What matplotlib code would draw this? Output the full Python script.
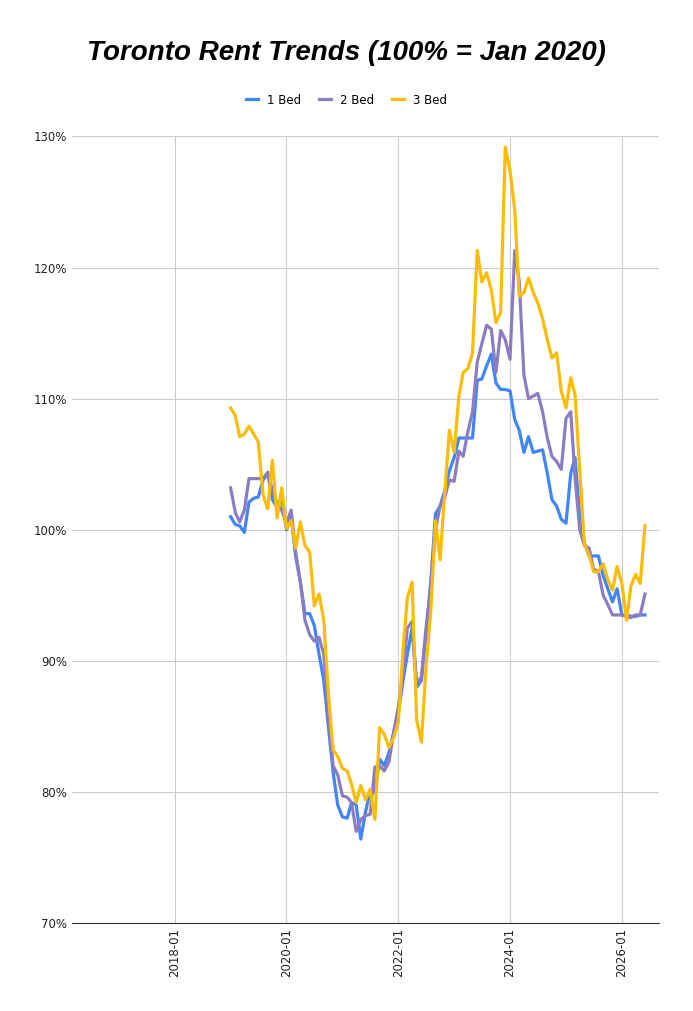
import matplotlib
matplotlib.use('Agg')
import matplotlib.pyplot as plt
import matplotlib.dates as mdates
import numpy as np
import datetime

months = [datetime.date(2019 + (i // 12), i % 12 + 1, 1) for i in range(90)]

bed1 = [101.0, 100.4, 100.3, 99.8, 102.1, 102.4, 102.5, 103.8, 104.3, 102.3, 101.7, 102.5,
        100.0, 101.0, 98.0, 96.0, 93.6, 93.6, 92.7, 90.5, 88.5, 85.0, 81.5, 79.0,
        78.1, 78.0, 79.2, 79.0, 76.4, 78.5, 80.0, 80.0, 82.5, 82.0, 83.0, 84.5,
        86.0, 88.5, 90.5, 92.5, 88.0, 88.5, 92.0, 96.0, 101.2, 101.8, 103.0, 104.5,
        105.5, 107.0, 107.0, 107.0, 107.0, 111.4, 111.5, 112.5, 113.4, 111.2, 110.7, 110.7,
        110.6, 108.4, 107.6, 105.9, 107.1, 105.9, 106.0, 106.1, 104.3, 102.3, 101.8, 100.8,
        100.5, 104.3, 105.5, 101.0, 99.0, 98.0, 98.0, 98.0, 96.5, 95.5, 94.5, 95.5,
        93.5, 93.5, 93.4, 93.4, 93.5, 93.5]

bed2 = [103.2, 101.3, 100.6, 101.5, 103.9, 103.9, 103.9, 103.9, 104.4, 103.0, 102.0, 101.5,
        100.5, 101.5, 98.3, 96.0, 93.1, 92.0, 91.5, 91.8, 90.5, 86.0, 82.0, 81.3,
        79.7, 79.6, 79.2, 77.0, 77.9, 78.2, 78.3, 81.9, 82.0, 81.6, 82.3, 84.5,
        86.5, 89.0, 92.5, 93.0, 88.2, 88.8, 92.5, 95.5, 100.0, 101.8, 102.5, 103.8,
        103.7, 106.0, 105.6, 107.5, 109.0, 112.8, 114.2, 115.6, 115.3, 112.0, 115.2, 114.5,
        113.0, 121.3, 119.0, 111.8, 110.0, 110.2, 110.4, 109.0, 107.0, 105.6, 105.2, 104.6,
        108.5, 109.0, 104.0, 100.0, 98.8, 98.6, 97.0, 96.8, 95.0, 94.3, 93.5, 93.5,
        93.5, 93.4, 93.3, 93.5, 93.5, 95.1]

bed3 = [109.3, 108.7, 107.1, 107.3, 107.9, 107.3, 106.7, 102.7, 101.6, 105.3, 100.9, 103.2,
        100.1, 100.7, 98.6, 100.6, 98.8, 98.3, 94.2, 95.1, 93.1, 87.5, 83.2, 82.7,
        81.8, 81.6, 80.6, 79.2, 80.5, 79.4, 80.2, 77.9, 84.9, 84.4, 83.4, 84.1,
        85.3, 90.8, 94.8, 96.0, 85.5, 83.8, 89.5, 93.7, 100.7, 97.7, 102.9, 107.6,
        105.9, 110.2, 112.0, 112.3, 113.5, 121.3, 118.9, 119.6, 118.3, 115.8, 116.6, 129.2,
        127.4, 124.4, 117.8, 118.1, 119.2, 118.1, 117.3, 116.1, 114.5, 113.1, 113.5, 110.6,
        109.3, 111.6, 110.3, 104.5, 98.9, 98.1, 96.8, 96.8, 97.4, 96.2, 95.4, 97.2,
        95.9, 93.1, 95.7, 96.6, 95.9, 100.3]

fig = plt.figure(figsize=(6.93, 10.11), dpi=100)
ax = fig.add_axes([0.104, 0.087, 0.847, 0.778])

ax.plot(months, np.array(bed1) / 100, color='#4285f4', lw=2.3, label='1 Bed')
ax.plot(months, np.array(bed2) / 100, color='#8e7cc3', lw=2.3, label='2 Bed')
ax.plot(months, np.array(bed3) / 100, color='#fbbc04', lw=2.3, label='3 Bed')

ax.set_xlim(datetime.date(2016, 3, 1), datetime.date(2026, 9, 1))
ax.set_ylim(0.7, 1.3)
ax.set_yticks(np.arange(0.7, 1.31, 0.1))
ax.set_yticklabels([f'{v}%' for v in range(70, 131, 10)], fontsize=8.5)
ax.set_xticks([datetime.date(y, 1, 1) for y in (2018, 2020, 2022, 2024, 2026)])
ax.xaxis.set_major_formatter(mdates.DateFormatter('%Y-%m'))
plt.setp(ax.get_xticklabels(), rotation=90, fontsize=8.5)
ax.grid(True, color='#cccccc', lw=0.8)
for s in ['top', 'right', 'left']:
    ax.spines[s].set_visible(False)
ax.spines['bottom'].set_color('#333333')
ax.tick_params(length=0, colors='#222222')

fig.text(0.5, 0.948, 'Toronto Rent Trends (100% = Jan 2020)', ha='center', va='center',
         fontsize=20, fontweight='bold', fontstyle='italic', family='Liberation Sans')
fig.legend(loc='center', bbox_to_anchor=(0.5, 0.901), ncol=3, frameon=False,
           fontsize=8.5, handlelength=1.0, columnspacing=1.5)

fig.savefig('out.png', dpi=100)
